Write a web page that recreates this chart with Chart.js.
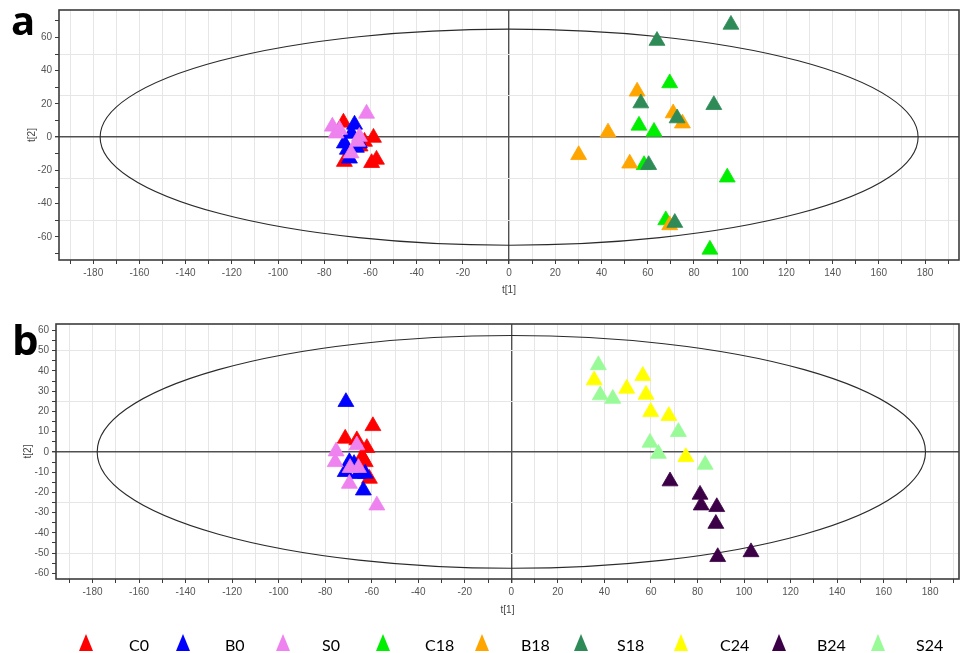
<!DOCTYPE html>
<html>
<head>
<meta charset="utf-8">
<script src="https://cdn.jsdelivr.net/npm/chart.js@4.4.1/dist/chart.umd.min.js"></script>
<style>
  html,body{margin:0;padding:0;background:#fff;}
  body{width:960px;height:653px;overflow:hidden;position:relative;}
  #ca{position:absolute;left:0;top:0;}
  #cb{position:absolute;left:0;top:310px;}
  #overlay{position:absolute;left:0;top:0;pointer-events:none;}
</style>
</head>
<body>
<canvas id="ca" width="960" height="300"></canvas>
<canvas id="cb" width="960" height="310"></canvas>
<svg id="overlay" width="960" height="653" xmlns="http://www.w3.org/2000/svg"></svg>
<script>
// ---------------- DATA ----------------
const legendNames = ['C0','B0','S0','C18','B18','S18','C24','B24','S24'];

// Panel a: t[1], t[2] scores
const aC0  = [[-71.7,8.8],[-58.7,-0.3],[-71.3,-14.8],[-57.4,-13.5],[-59.5,-15.5],[-62.6,-2.7],[-64.5,-5.5]];
const aB0  = [[-66.9,7.6],[-71.3,-3.7],[-64.8,-3.7],[-69.1,-12.8],[-70.0,-7.5],[-66.1,-6.3],[-68.2,2.1]];
const aS0  = [[-61.7,14.2],[-76.5,6.4],[-74.9,2.3],[-64.8,0.3],[-68.4,-9.7],[-73.4,4.5],[-65.6,-2.7]];
const aC18 = [[69.5,32.5],[56.2,7.0],[62.7,3.3],[58.4,-16.7],[94.4,-24.2],[67.8,-49.9],[86.9,-67.6]];
const aB18 = [[55.4,27.5],[71.0,14.4],[75.0,8.3],[42.8,2.9],[30.1,-10.7],[52.2,-15.8],[69.5,-52.9]];
const aS18 = [[96.0,67.7],[64.0,58.0],[57.0,20.4],[88.6,19.4],[72.7,11.4],[60.4,-16.7],[71.7,-51.5]];

// Panel b: t[1], t[2] scores
const bC0  = [[-59.5,12.8],[-71.4,6.6],[-66.4,5.8],[-62.1,2.0],[-62.8,-5.0],[-61.0,-13.2],[-64.1,-2.5]];
const bB0  = [[-71.1,24.7],[-69.6,-5.0],[-71.4,-9.9],[-62.8,-10.7],[-63.6,-19.0],[-67.6,-5.9],[-65.8,-10.9]];
const bS0  = [[-66.4,3.3],[-75.3,0.3],[-75.7,-5.0],[-69.3,-7.9],[-65.7,-7.9],[-69.6,-15.7],[-57.8,-26.4]];
const bC24 = [[35.6,35.4],[56.5,37.6],[49.6,31.3],[57.9,28.3],[59.9,19.8],[67.7,17.8],[75.0,-2.5]];
const bB24 = [[68.2,-14.5],[81.1,-21.1],[81.6,-26.4],[88.3,-27.2],[87.9,-35.5],[88.7,-51.9],[103.0,-49.5]];
const bS24 = [[37.4,42.9],[38.2,28.0],[43.6,26.3],[71.8,9.9],[59.6,4.6],[63.2,-0.9],[83.3,-6.3]];

// Hotelling T2 ellipse semi-axes [t1, t2]
const ellipseA = [177, 65];
const ellipseB = [178, 57.5];

// Tick values and labels
const xTicks = [-190,-180,-170,-160,-150,-140,-130,-120,-110,-100,-90,-80,-70,-60,-50,-40,-30,-20,-10,0,
                10,20,30,40,50,60,70,80,90,100,110,120,130,140,150,160,170,180,190];
const xLabels = [-180,-160,-140,-120,-100,-80,-60,-40,-20,0,20,40,60,80,100,120,140,160,180];
const aYTicks = [-70,-60,-50,-40,-30,-25,-20,-10,0,10,20,25,30,40,50,60,70];
const aYLabels = [-60,-40,-20,0,20,40,60];
const bYTicks = [-60,-55,-50,-45,-40,-35,-30,-25,-20,-15,-10,-5,0,5,10,15,20,25,30,35,40,45,50,55,60];
const bYLabels = [-60,-50,-40,-30,-20,-10,0,10,20,30,40,50,60];
const gridStep = 25;

// ---------------- STYLE ----------------
const colors = {C0:'#ff0000', B0:'#0000ff', S0:'#ee82ee', C18:'#00ee00', B18:'#ffa500',
                S18:'#2e8b57', C24:'#ffff00', B24:'#3c0046', S24:'#98fb98'};
const drawOrder = {C0:3, B0:2, S0:1, C18:3, B18:2, S18:1, C24:3, B24:2, S24:1};

const ellipsePlugin = {
  id:'ell',
  beforeDatasetsDraw(chart, args, opts){
    const {ctx, scales:{x, y}} = chart;
    const cx = x.getPixelForValue(0), cy = y.getPixelForValue(0);
    const rx = x.getPixelForValue(opts.axes[0]) - cx;
    const ry = cy - y.getPixelForValue(opts.axes[1]);
    ctx.save();
    ctx.beginPath();
    ctx.ellipse(cx, cy, rx, ry, 0, 0, Math.PI*2);
    ctx.strokeStyle = '#2a2a2a';
    ctx.lineWidth = 1.1;
    ctx.stroke();
    ctx.restore();
  }
};
const framePlugin = {
  id:'frame',
  afterDatasetsDraw(chart){
    const {ctx, chartArea:a} = chart;
    ctx.save();
    ctx.strokeStyle = '#3c3c3c';
    ctx.lineWidth = 1.6;
    ctx.strokeRect(a.left, a.top, a.right - a.left, a.bottom - a.top);
    ctx.restore();
  }
};

function tv(ctx){ return ctx && ctx.tick ? ctx.tick.value : null; }

function makeChart(id, groups, cfg){
  const datasets = groups.map(([name, pts]) => ({
    label:name,
    data: pts.map(p => ({x:p[0], y:p[1]})),
    pointStyle:'triangle',
    pointRadius:9.2,
    pointBackgroundColor: colors[name],
    pointBorderColor: colors[name],
    pointBorderWidth:0.8,
    order: drawOrder[name]
  }));
  const tickFont = {family:'"Liberation Sans", Arial, sans-serif', size:10};
  return new Chart(document.getElementById(id), {
    type:'scatter',
    data:{datasets},
    options:{
      responsive:false, animation:false, events:[], devicePixelRatio:1,
      layout:{padding:cfg.pad, autoPadding:false},
      plugins:{legend:{display:false}, tooltip:{enabled:false}, ell:{axes:cfg.ellipse}},
      scales:{
        x:{
          type:'linear', min:cfg.xMin, max:cfg.xMax,
          afterBuildTicks: s => { s.ticks = xTicks.map(v => ({value:v})); },
          afterFit: s => { s.height = cfg.xH; s.paddingLeft = 0; s.paddingRight = 0; },
          border:{display:false},
          grid:{
            color: c => tv(c) === 0 ? '#505050' : '#e6e6e6',
            lineWidth: c => tv(c) === 0 ? 1.4 : 1,
            tickColor:'#3c3c3c', tickLength:4, drawTicks:true
          },
          ticks:{autoSkip:false, maxRotation:0, padding:3, color:'#555', font:tickFont,
                 callback: v => xLabels.includes(v) ? String(v) : ''},
          title:{display:true, text:'t[1]', color:'#444', font:tickFont, padding:{top:0, bottom:4}}
        },
        y:{
          type:'linear', min:cfg.yMin, max:cfg.yMax,
          afterBuildTicks: s => { s.ticks = cfg.yTicks.map(v => ({value:v})); },
          afterFit: s => { s.width = cfg.yW; s.paddingTop = 0; s.paddingBottom = 0; },
          border:{display:false},
          grid:{
            color: c => { const v = tv(c); return v === 0 ? '#505050' : (v !== null && v % gridStep === 0 ? '#e6e6e6' : 'rgba(0,0,0,0)'); },
            lineWidth: c => tv(c) === 0 ? 1.4 : 1,
            tickColor: c => { const v = tv(c); return v !== null && v % cfg.yTickStep === 0 ? '#3c3c3c' : 'rgba(0,0,0,0)'; },
            tickLength:4, drawTicks:true
          },
          ticks:{autoSkip:false, padding:3, color:'#555', font:tickFont,
                 callback: v => cfg.yLabels.includes(v) ? String(v) : ''},
          title:{display:true, text:'t[2]', color:'#444', font:tickFont, padding:{top:cfg.yTitlePad, bottom:0}}
        }
      }
    },
    plugins:[ellipsePlugin, framePlugin]
  });
}

makeChart('ca', [['C0',aC0],['B0',aB0],['S0',aS0],['C18',aC18],['B18',aB18],['S18',aS18]], {
  pad:{top:10, right:1, bottom:0, left:0},
  xMin:-194.8, xMax:194.7, yMin:-73.9, yMax:76.5, xH:40, yW:59,
  yTicks:aYTicks, yLabels:aYLabels, yTickStep:10, yTitlePad:26, ellipse:ellipseA
});
makeChart('cb', [['C0',bC0],['B0',bB0],['S0',bS0],['C24',bC24],['B24',bB24],['S24',bS24]], {
  pad:{top:14, right:1, bottom:0, left:0},
  xMin:-195.7, xMax:192.4, yMin:-62.8, yMax:63.2, xH:41, yW:56,
  yTicks:bYTicks, yLabels:bYLabels, yTickStep:5, yTitlePad:22, ellipse:ellipseB
});

// ---------------- OVERLAY: panel letters and legend ----------------
const svgNS = 'http://www.w3.org/2000/svg';
const svg = document.getElementById('overlay');
function addText(str, x, y, size, weight, family){
  const t = document.createElementNS(svgNS, 'text');
  t.setAttribute('x', x); t.setAttribute('y', y);
  t.setAttribute('font-size', size); t.setAttribute('font-weight', weight);
  t.setAttribute('font-family', family); t.setAttribute('fill', '#000');
  t.textContent = str; svg.appendChild(t);
}
addText('a', 11, 35, 40, 'bold', '"Open Sans", "Liberation Sans", sans-serif');
addText('b', 12, 355, 42, 'bold', '"Open Sans", "Liberation Sans", sans-serif');

const legendMarkX = [86, 183, 283, 383, 482, 581, 681, 779, 878];
const legendTextX = [129, 225, 322, 425, 521, 617, 720, 817, 916];
legendNames.forEach((name, i) => {
  const cx = legendMarkX[i], top = 634, bot = 651, hw = 7;
  const p = document.createElementNS(svgNS, 'polygon');
  p.setAttribute('points', `${cx},${top} ${cx+hw},${bot} ${cx-hw},${bot}`);
  p.setAttribute('fill', colors[name]);
  svg.appendChild(p);
  addText(name, legendTextX[i], 651, 16, 'normal', 'Lato, "Open Sans", sans-serif');
});
</script>
</body>
</html>
